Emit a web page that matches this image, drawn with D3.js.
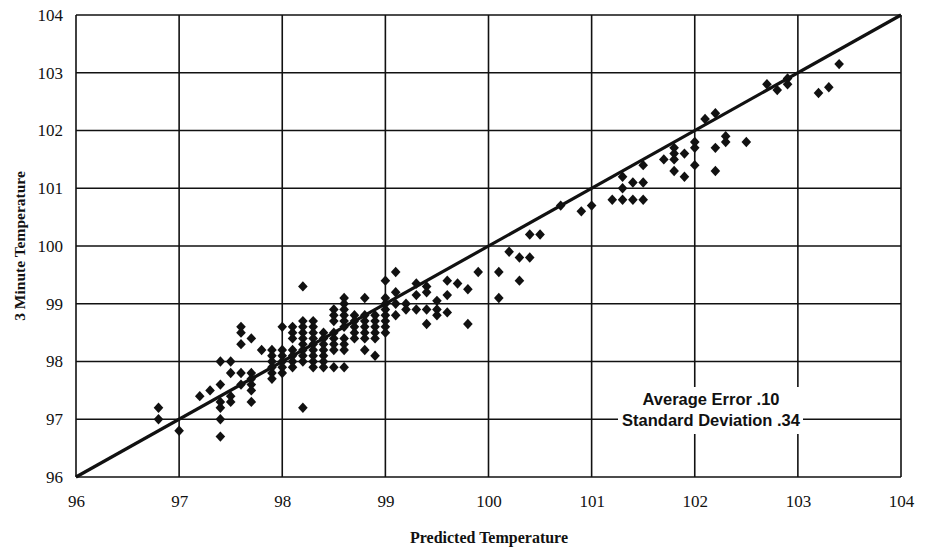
<!DOCTYPE html>
<html>
<head>
<meta charset="utf-8">
<script src="https://cdn.jsdelivr.net/npm/d3@7"></script>
<style>
  html, body { margin: 0; padding: 0; background: #fff; }
  svg { display: block; }
</style>
</head>
<body>
<svg id="chart" width="925" height="553"></svg>
<script>
// ---- data ----
const xTicks = [96, 97, 98, 99, 100, 101, 102, 103, 104];
const yTicks = [96, 97, 98, 99, 100, 101, 102, 103, 104];
const xTitle = "Predicted Temperature";
const yTitle = "3 Minute Temperature";
const noteLines = ["Average Error .10", "Standard Deviation .34"];
const identityLine = [[96, 96], [104, 104]];

// predicted temperature columns and the 3-minute readings observed in each
const predicted = [96.8, 97.0, 97.2, 97.3, 97.4, 97.5, 97.6, 97.7, 97.8, 97.9, 98.0, 98.1, 98.2, 98.3, 98.4, 98.5, 98.6, 98.7, 98.8, 98.9, 99.0, 99.1, 99.2, 99.3, 99.4, 99.5, 99.6, 99.7, 99.8, 99.9, 100.1, 100.2, 100.3, 100.4, 100.5, 100.7, 100.9, 101.0, 101.2, 101.3, 101.4, 101.5, 101.7, 101.8, 101.9, 102.0, 102.1, 102.2, 102.3, 102.5, 102.7, 102.8, 102.9, 103.2, 103.3, 103.4];
const measured = [
  [97.2, 97.0],
  [96.8],
  [97.4],
  [97.5],
  [98.0, 97.6, 97.3, 97.2, 97.0, 96.7],
  [98.0, 97.8, 97.4, 97.3],
  [98.6, 98.5, 98.3, 97.8, 97.6],
  [98.4, 97.8, 97.7, 97.6, 97.5, 97.3],
  [98.2],
  [98.2, 98.1, 98.0, 97.9, 97.8, 97.7],
  [98.6, 98.2, 98.1, 98.0, 97.9, 97.8],
  [98.6, 98.5, 98.4, 98.2, 98.1, 98.0, 97.9],
  [99.3, 98.7, 98.6, 98.5, 98.4, 98.3, 98.2, 98.1, 98.0, 97.2],
  [98.7, 98.6, 98.5, 98.4, 98.3, 98.2, 98.1, 98.0, 97.9],
  [98.5, 98.4, 98.3, 98.2, 98.1, 98.0, 97.9],
  [98.9, 98.8, 98.7, 98.5, 98.4, 98.3, 98.2, 97.9],
  [99.1, 99.0, 98.9, 98.8, 98.7, 98.6, 98.4, 98.3, 98.2, 97.9],
  [98.8, 98.7, 98.6, 98.5, 98.4],
  [99.1, 98.8, 98.7, 98.6, 98.5, 98.4, 98.2],
  [98.8, 98.7, 98.6, 98.5, 98.4, 98.1],
  [99.4, 99.1, 99.0, 98.9, 98.8, 98.7, 98.6, 98.5],
  [99.55, 99.2, 99.0, 98.8],
  [99.0, 98.9],
  [99.35, 99.15, 98.9],
  [99.3, 99.2, 98.9, 98.65],
  [99.05, 98.9, 98.8],
  [99.4, 99.15, 98.85],
  [99.35],
  [99.25, 98.65],
  [99.55],
  [99.55, 99.1],
  [99.9],
  [99.8, 99.4],
  [100.2, 99.8],
  [100.2],
  [100.7],
  [100.6],
  [100.7],
  [100.8],
  [101.2, 101.0, 100.8],
  [101.1, 100.8],
  [101.4, 101.1, 100.8],
  [101.5],
  [101.7, 101.6, 101.5, 101.3],
  [101.6, 101.2],
  [101.8, 101.7, 101.4],
  [102.2],
  [102.3, 101.7, 101.3],
  [101.9, 101.8],
  [101.8],
  [102.8],
  [102.7],
  [102.9, 102.8],
  [102.65],
  [102.75],
  [103.15]
];

// ---- layout ----
const svg = d3.select("#chart");
const L = 76, R = 901, T = 15, B = 477;
const x = d3.scaleLinear().domain([96, 104]).range([L, R]);
const y = d3.scaleLinear().domain([96, 104]).range([B, T]);

const points = [];
predicted.forEach((px, i) => measured[i].forEach(v => points.push({ p: px, m: v })));

// grid
const grid = svg.append("g").attr("stroke", "#111").attr("stroke-width", 1.6);
grid.selectAll("line.v").data(xTicks).join("line")
  .attr("x1", d => x(d)).attr("x2", d => x(d)).attr("y1", T).attr("y2", B);
grid.selectAll("line.h").data(yTicks).join("line")
  .attr("y1", d => y(d)).attr("y2", d => y(d)).attr("x1", L).attr("x2", R);

// axes (labels only, via d3 axes)
const xAxis = svg.append("g").attr("transform", `translate(0,${B})`)
  .call(d3.axisBottom(x).tickValues(xTicks).tickSize(0).tickPadding(18).tickFormat(d3.format("d")));
const yAxis = svg.append("g").attr("transform", `translate(${L},0)`)
  .call(d3.axisLeft(y).tickValues(yTicks).tickSize(0).tickPadding(13).tickFormat(d3.format("d")));
[xAxis, yAxis].forEach(a => {
  a.select(".domain").remove();
  a.selectAll("text").attr("font-family", "Liberation Serif, Times New Roman, serif")
    .attr("font-size", 17).attr("fill", "#111");
});

// identity line
svg.append("line")
  .attr("x1", x(identityLine[0][0])).attr("y1", y(identityLine[0][1]))
  .attr("x2", x(identityLine[1][0])).attr("y2", y(identityLine[1][1]))
  .attr("stroke", "#111").attr("stroke-width", 3.2);

// points
svg.append("g").selectAll("path").data(points).join("path")
  .attr("transform", d => `translate(${x(d.p)},${y(d.m)})`)
  .attr("d", "M0,-5.2L4.8,0L0,5.2L-4.8,0Z")
  .attr("fill", "#111");

// annotation
svg.append("rect").attr("x", 618).attr("y", 387).attr("width", 185).attr("height", 47).attr("fill", "#fff");
svg.append("g").selectAll("text").data(noteLines).join("text")
  .attr("x", 711).attr("y", (d, i) => 405 + i * 21)
  .attr("text-anchor", "middle")
  .attr("font-family", "Liberation Sans, Arial, sans-serif")
  .attr("font-weight", "bold").attr("font-size", 16.5).attr("fill", "#111")
  .text(d => d);

// titles
svg.append("text").attr("x", 489).attr("y", 543).attr("text-anchor", "middle")
  .attr("font-family", "Liberation Serif, Times New Roman, serif")
  .attr("font-weight", "bold").attr("font-size", 16).attr("fill", "#111").text(xTitle);
svg.append("text").attr("transform", "translate(25,246) rotate(-90)").attr("text-anchor", "middle")
  .attr("font-family", "Liberation Serif, Times New Roman, serif")
  .attr("font-weight", "bold").attr("font-size", 15.5).attr("fill", "#111").text(yTitle);
</script>
</body>
</html>
